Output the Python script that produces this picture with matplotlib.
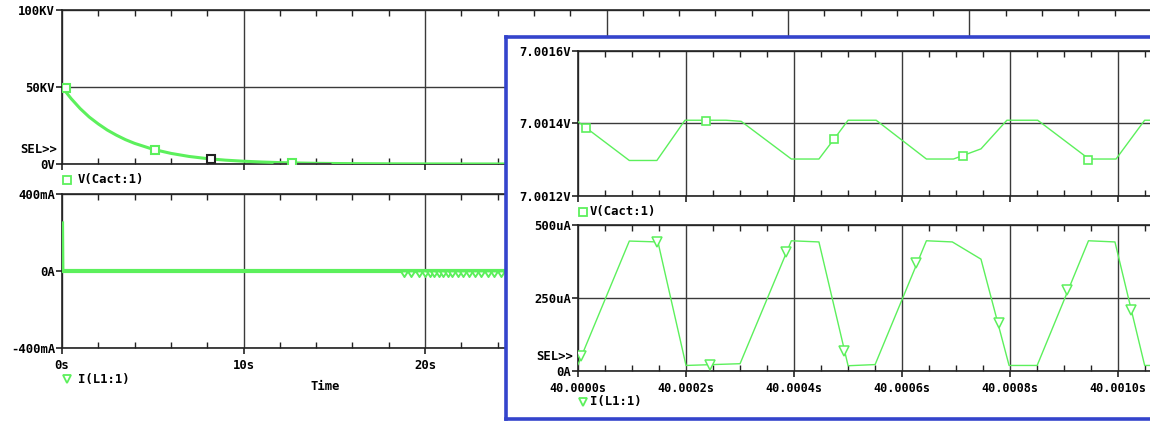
import matplotlib
matplotlib.use("Agg")
import matplotlib.pyplot as plt
from matplotlib.lines import Line2D
from matplotlib.ticker import MultipleLocator, FixedLocator, FuncFormatter
from matplotlib.path import Path

# ---------------- data ----------------
# Left overview: V(Cact:1) in KV versus time in s
left_t = [0, 0.5, 1, 1.5, 2, 2.5, 3, 3.5, 4, 5, 6, 7, 8, 9, 10, 11, 12, 13, 14, 15, 16, 18, 20, 25, 30, 40, 60]
left_v_kv = [50, 42.5, 36, 30.5, 26, 22, 18.7, 15.8, 13.4, 9.6, 6.9, 4.9, 3.5, 2.5, 1.8, 1.3, 0.9, 0.65,
             0.45, 0.33, 0.24, 0.12, 0.06, 0.01, 0, 0, 0]
left_v_mark_t = [0.2, 5.1, 12.65]
left_v_mark_v = [49.5, 9.2, 0.7]
left_v_sel_t = [8.2]
left_v_sel_v = [3.3]
cursor_t = [11.6, 14.8]
cursor_v = [0, 0]

# Left overview: I(L1:1) in mA
left_i_t = [0, 0.02, 60]
left_i_ma = [247, 0, 0]
left_i_mark_t = [18.85, 19.25, 19.65, 20.0, 20.25, 20.5, 20.75, 21.0, 21.25, 21.5, 21.8, 22.1,
                 22.4, 22.75, 23.1, 23.45, 23.8, 24.2]
left_i_mark_v = [0] * len(left_i_mark_t)

# Zoomed inset: time offset from 40 s in microseconds
ins_v_t = [0, 95, 146, 198, 274, 302, 395, 446, 474, 500, 552, 645, 695, 746, 794, 851, 946, 996, 1049, 1070]
ins_v = [7.001405, 7.001298, 7.001298, 7.001409, 7.001409, 7.001406, 7.001302, 7.001302, 7.001357,
         7.001409, 7.001409, 7.001302, 7.001302, 7.001330, 7.001409, 7.001409, 7.001302, 7.001302,
         7.001409, 7.001409]
ins_v_mark_t = [15, 237, 474, 712, 945]
ins_v_mark = [7.0013885, 7.001407, 7.0013582, 7.0013113, 7.0013002]

ins_i_t = [0, 95, 148, 200, 300, 395, 446, 500, 550, 645, 693, 746, 798, 850, 945, 994, 1049, 1070]
ins_i_ua = [22, 445, 442, 19, 25, 446, 442, 18, 22, 446, 442, 383, 19, 19, 446, 442, 19, 19]
ins_i_mark_t = [6, 146, 245, 385, 492, 626, 779, 906, 1024]
ins_i_mark = [50, 443, 19, 409, 69, 371, 164, 278, 210]

left_vticks = [0, 50, 100]
left_vticklabels = ["0V", "50KV", "100KV"]
left_iticks = [-400, 0, 400]
left_iticklabels = ["-400mA", "0A", "400mA"]
left_xticks = [0, 10, 20, 30, 40, 50]
left_xticklabels = ["0s", "10s", "20s", "30s", "40s", "50s"]
ins_vticks = [7.0012, 7.0014, 7.0016]
ins_vticklabels = ["7.0012V", "7.0014V", "7.0016V"]
ins_iticks = [0, 250, 500]
ins_iticklabels = ["0A", "250uA", "500uA"]

# ---------------- style ----------------
W, H = 1150, 421
GREEN = "#5cf05c"
GRID = "#3a3a3a"
BLUE = "#3444cc"
FS = 8.8
FONT = dict(family="DejaVu Sans Mono", weight="bold", size=FS)

plt.rcParams["font.family"] = ["DejaVu Sans Mono"]
plt.rcParams["font.weight"] = "bold"
plt.rcParams["font.size"] = FS

fig = plt.figure(figsize=(W / 100, H / 100), dpi=100)
fig.patch.set_facecolor("white")


def box(l, t, r, b):
    return [l / W, 1 - b / H, (r - l) / W, (b - t) / H]


def style_axes(ax, xmajor, xminor, yticks, ylabels, show_xlabels, xlabels=None, xfmt=None, xfs=FS):
    ax.set_facecolor("white")
    for s in ax.spines.values():
        s.set_color("#222222")
        s.set_linewidth(1.2)
    ax.xaxis.set_major_locator(FixedLocator(xmajor))
    ax.xaxis.set_minor_locator(MultipleLocator(xminor))
    ax.set_yticks(yticks)
    ax.set_yticklabels(ylabels)
    ax.grid(True, which="major", color=GRID, linewidth=1.0)
    ax.tick_params(axis="y", which="major", direction="out", length=4, width=1.2, pad=1,
                   left=True, right=False, labelsize=FS, color="#222222")
    ax.tick_params(axis="x", which="major", direction="out", length=4, width=1.2, pad=4,
                   bottom=True, top=False, labelsize=xfs, color="#222222")
    ax.tick_params(axis="x", which="minor", direction="in", length=4, width=1.0,
                   bottom=True, top=True, color="#222222")
    ax.tick_params(axis="y", which="minor", left=False, right=False)
    if show_xlabels:
        if xfmt is not None:
            ax.xaxis.set_major_formatter(xfmt)
        else:
            ax.set_xticklabels(xlabels)
    else:
        ax.tick_params(axis="x", which="major", labelbottom=False)
    ax.set_axisbelow(True)


# ---- left top: V(Cact:1)
ax1 = fig.add_axes(box(62, 10, 1151, 164), zorder=1)
ax1.plot(left_t, left_v_kv, color=GREEN, lw=2.2, zorder=3)
ax1.plot(cursor_t, cursor_v, color="#444444", lw=2.2, zorder=4, solid_capstyle="butt")
ax1.plot(left_v_mark_t, left_v_mark_v, ls="none", marker="s", ms=6, mfc="white", mec=GREEN, mew=1.5, zorder=5)
ax1.plot(left_v_sel_t, left_v_sel_v, ls="none", marker="s", ms=6, mfc="white", mec="#222222", mew=1.5, zorder=5)
ax1.set_xlim(0, 60)
ax1.set_ylim(0, 100)
style_axes(ax1, left_xticks, 2, left_vticks, left_vticklabels, False)

# ---- left bottom: I(L1:1)
ax2 = fig.add_axes(box(62, 194, 1151, 348), zorder=1)
ax2.plot(left_i_t, left_i_ma, color=GREEN, lw=3.0, zorder=3, solid_joinstyle="miter")
tri_down = Path([(-1, 0), (1, 0), (0, -1.6), (-1, 0)], [Path.MOVETO, Path.LINETO, Path.LINETO, Path.CLOSEPOLY])
ax2.plot(left_i_mark_t, left_i_mark_v, ls="none", marker=tri_down, ms=8, mfc="white", mec=GREEN, mew=1.4, zorder=5)
ax2.set_xlim(0, 60)
ax2.set_ylim(-400, 400)
style_axes(ax2, left_xticks, 2, left_iticks, left_iticklabels, True, xlabels=left_xticklabels)

# ---- legends / labels of the left chart
fig.add_artist(Line2D([67 / W], [1 - 180 / H], ls="none", marker="s", ms=6, mfc="white", mec=GREEN, mew=1.3))
fig.text(78 / W, 1 - 180 / H, "V(Cact:1)", va="center", ha="left", **FONT)
fig.add_artist(Line2D([67 / W], [1 - 379 / H], ls="none", marker="v", ms=6, mfc="white", mec=GREEN, mew=1.3))
fig.text(78 / W, 1 - 379 / H, "I(L1:1)", va="center", ha="left", **FONT)
fig.text(325 / W, 1 - 387 / H, "Time", va="center", ha="center", **FONT)
fig.text(57 / W, 1 - 149 / H, "SEL>>", va="center", ha="right", **FONT)

# ---- inset frame
axf = fig.add_axes(box(506, 37, 1170, 419), zorder=3)
axf.set_facecolor("white")
axf.set_xticks([])
axf.set_yticks([])
for s in axf.spines.values():
    s.set_color(BLUE)
    s.set_linewidth(2.6)

tfmt = FuncFormatter(lambda x, pos: f"{40 + x * 1e-6:.4f}s")
ins_xticks = [0, 200, 400, 600, 800, 1000]

# ---- inset top: V(Cact:1)
ax3 = fig.add_axes(box(578, 51, 1156, 196), zorder=4)
ax3.plot(ins_v_t, ins_v, color=GREEN, lw=1.0, zorder=3)
ax3.plot(ins_v_mark_t, ins_v_mark, ls="none", marker="s", ms=6, mfc="white", mec=GREEN, mew=1.2, zorder=5)
ax3.set_xlim(0, 1070)
ax3.set_ylim(7.0012, 7.0016)
style_axes(ax3, ins_xticks, 50, ins_vticks, ins_vticklabels, False)

# ---- inset bottom: I(L1:1)
ax4 = fig.add_axes(box(578, 225, 1156, 371), zorder=4)
ax4.plot(ins_i_t, ins_i_ua, color=GREEN, lw=1.0, zorder=3)
ax4.plot(ins_i_mark_t, ins_i_mark, ls="none", marker="v", ms=7, mfc="white", mec=GREEN, mew=1.1, zorder=5)
ax4.set_xlim(0, 1070)
ax4.set_ylim(0, 500)
style_axes(ax4, ins_xticks, 50, ins_iticks, ins_iticklabels, True, xfmt=tfmt, xfs=8.5)

fig.add_artist(Line2D([583 / W], [1 - 212 / H], ls="none", marker="s", ms=6, mfc="white", mec=GREEN, mew=1.3, zorder=6))
fig.text(590 / W, 1 - 212 / H, "V(Cact:1)", va="center", ha="left", zorder=6, **FONT)
fig.add_artist(Line2D([583 / W], [1 - 402 / H], ls="none", marker="v", ms=6, mfc="white", mec=GREEN, mew=1.3, zorder=6))
fig.text(590 / W, 1 - 402 / H, "I(L1:1)", va="center", ha="left", zorder=6, **FONT)
fig.text(573 / W, 1 - 357 / H, "SEL>>", va="center", ha="right", zorder=6, **FONT)

fig.savefig("out.png", dpi=100, facecolor="white")
